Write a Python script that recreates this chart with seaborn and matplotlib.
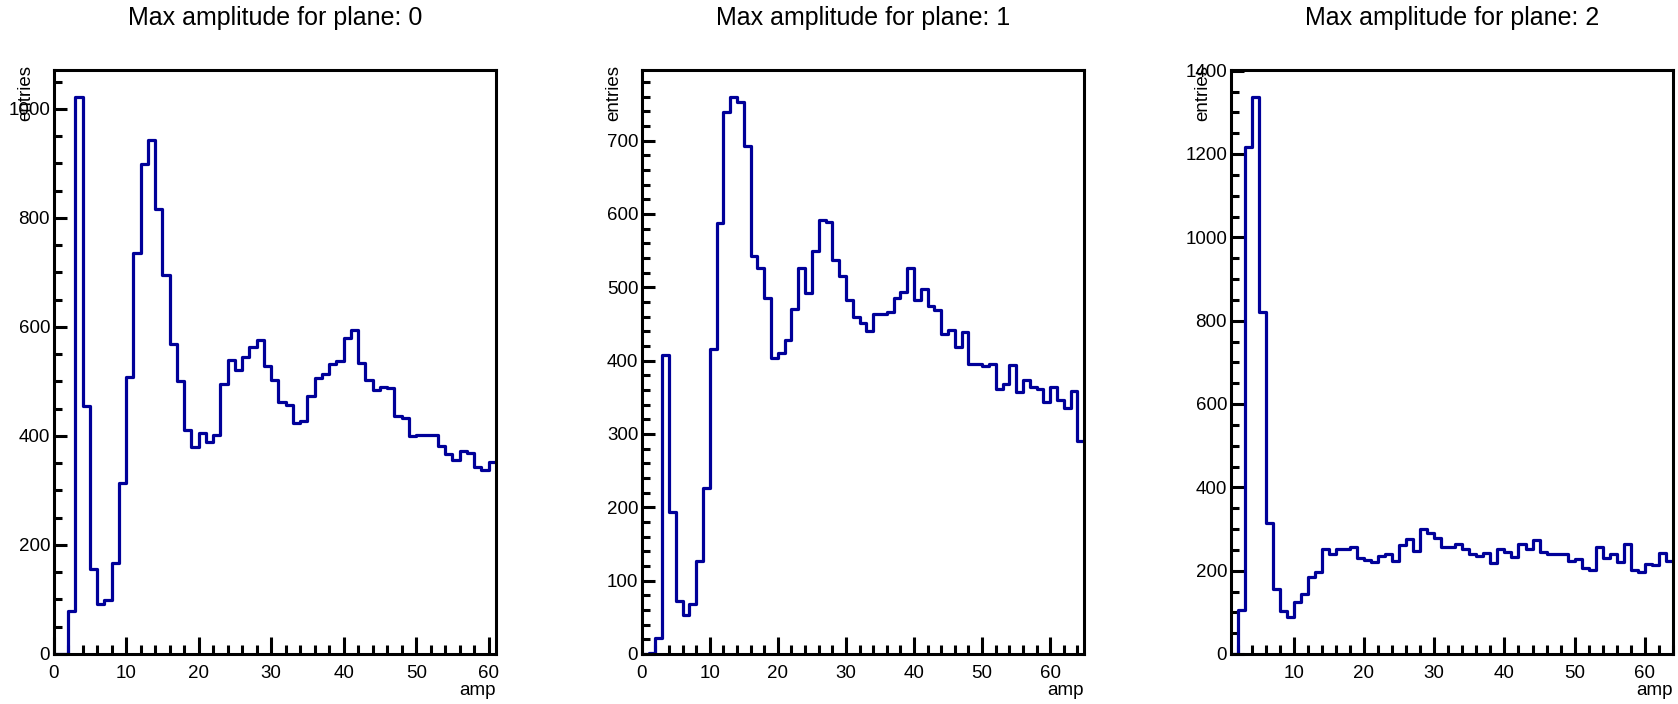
import numpy as np
import pandas as pd
import seaborn as sns
import matplotlib.pyplot as plt
from matplotlib.ticker import MultipleLocator

sns.set_theme(style="white")
plt.rcParams['font.family'] = ['Liberation Sans', 'DejaVu Sans']

# ---- data (bin contents, bins of width 1) ----
plane0_start = 0
plane0_counts = [0, 0, 78, 1021, 454, 156, 92, 99, 167, 314,
                 508, 735, 898, 943, 816, 695, 568, 501, 410, 379,
                 405, 388, 401, 496, 539, 520, 544, 563, 576, 528,
                 503, 463, 456, 424, 427, 474, 506, 514, 531, 538,
                 580, 595, 534, 503, 485, 489, 488, 436, 433, 399,
                 402, 401, 401, 381, 367, 356, 372, 368, 343, 338,
                 352]

plane1_start = 0
plane1_counts = [0, 2, 22, 407, 193, 72, 53, 68, 127, 226,
                 416, 588, 739, 759, 752, 693, 543, 526, 486, 403,
                 411, 428, 470, 526, 492, 549, 592, 589, 537, 516,
                 482, 459, 451, 441, 463, 464, 466, 486, 494, 526,
                 483, 498, 474, 469, 436, 442, 418, 439, 395, 396,
                 393, 395, 362, 368, 394, 357, 374, 364, 362, 343,
                 364, 347, 336, 358, 291]

plane2_start = 1
plane2_counts = [0, 105, 1217, 1336, 822, 315, 155, 103, 88, 125,
                 145, 184, 197, 251, 239, 253, 253, 258, 231, 226,
                 222, 236, 240, 224, 261, 276, 248, 301, 290, 278,
                 256, 258, 265, 253, 240, 236, 243, 219, 251, 245,
                 234, 263, 251, 273, 245, 241, 239, 239, 224, 229,
                 207, 202, 256, 231, 241, 221, 265, 201, 196, 216,
                 214, 243, 224]

titles = ["Max amplitude for plane: 0",
          "Max amplitude for plane: 1",
          "Max amplitude for plane: 2"]
x_label = "amp"
y_label = "entries"

panels = [(plane0_start, plane0_counts, 200, 50),
          (plane1_start, plane1_counts, 100, 20),
          (plane2_start, plane2_counts, 200, 50)]

W, H = 1678, 704
fig = plt.figure(figsize=(W / 100, H / 100), dpi=100)
fig.patch.set_facecolor("white")

lefts = [53.5, 641.7, 1230.5]
width = 442.5
top_px, bot_px = 69.5, 654.0
line_col = "#000099"

for i, (start, counts, ymaj, ymin_) in enumerate(panels):
    l = lefts[i]
    ax = fig.add_axes([l / W, 1 - bot_px / H, width / W, (bot_px - top_px) / H])
    counts = np.asarray(counts, dtype=float)
    edges = [float(e) for e in range(start, start + len(counts) + 1)]
    df = pd.DataFrame({"amp": [e + 0.5 for e in edges[:-1]], "w": counts})
    sns.histplot(data=df, x="amp", weights="w", bins=edges, element="step",
                 fill=False, color=line_col, linewidth=2.3, ax=ax)
    ax.set_xlim(edges[0], edges[-1])
    ax.set_ylim(0, 1.05 * counts.max())
    ax.set_xlabel("")
    ax.set_ylabel("")
    ax.set_facecolor("white")
    for sp in ax.spines.values():
        sp.set_visible(True)
        sp.set_color("black")
        sp.set_linewidth(2.2)
    ax.xaxis.set_major_locator(MultipleLocator(10))
    ax.xaxis.set_minor_locator(MultipleLocator(2))
    ax.yaxis.set_major_locator(MultipleLocator(ymaj))
    ax.yaxis.set_minor_locator(MultipleLocator(ymin_))
    ax.tick_params(which="both", direction="in", top=False, right=False,
                   left=True, bottom=True, color="black", width=2.2,
                   labelsize=13.5, labelcolor="black")
    ax.xaxis.set_tick_params(which="major", length=12.2, pad=8)
    ax.xaxis.set_tick_params(which="minor", length=6.5)
    ax.yaxis.set_tick_params(which="major", length=9.4, pad=2.5)
    ax.yaxis.set_tick_params(which="minor", length=5.4)
    ax.grid(False)

    cx = (l + width / 2) / W
    fig.text(cx, 1 - 18.5 / H, titles[i], ha="center", va="center",
             fontsize=18, color="black")
    fig.text((l + width) / W, 1 - 695 / H, x_label, ha="right",
             va="baseline", fontsize=13.5, color="black")
    fig.text((l - 28) / W, 1 - 65 / H, y_label, ha="center", va="top",
             rotation=90, fontsize=13.5, color="black")

fig.savefig("out.png", dpi=100, facecolor="white")
